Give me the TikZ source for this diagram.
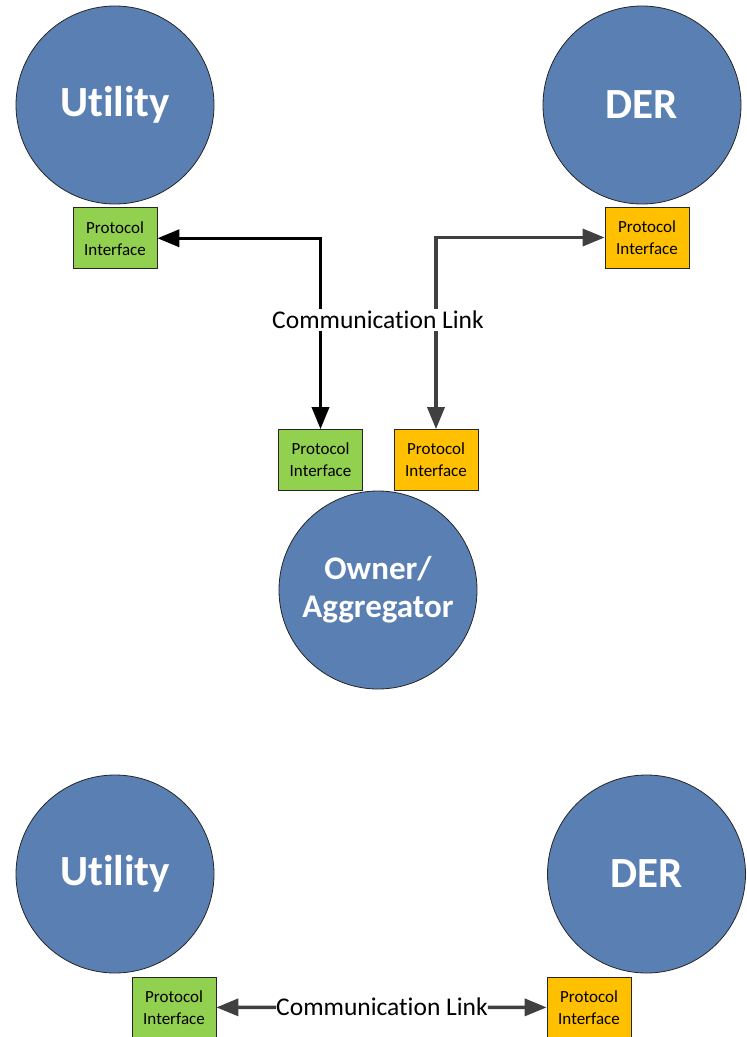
\documentclass[tikz,border=0pt]{standalone}
\usepackage{fontspec}
\setmainfont{Carlito}[Ligatures={NoCommon, NoRequired, NoContextual}]
\usepackage{tikz}
\usetikzlibrary{positioning, arrows.meta}
\definecolor{nodeblue}{HTML}{5A7FB3}
\definecolor{pigreen}{HTML}{92D050}
\definecolor{piorange}{HTML}{FFC000}
\definecolor{darkline}{HTML}{404040}
\tikzset{
  party/.style={circle, draw=black!85, fill=nodeblue, line width=0.8pt, minimum size=198pt,
                inner sep=0pt, align=center, text=white, font=\fontsize{43}{46}\selectfont\bfseries},
  greenif/.style={draw=black!85, fill=pigreen, line width=0.7pt, minimum width=84pt, minimum height=61pt,
                  inner sep=0pt, align=center, font=\fontsize{17}{22}\selectfont},
  orangeif/.style={greenif, fill=piorange},
  linklabel/.style={fill=white, inner sep=2pt, font=\fontsize{25.5}{28}\selectfont},
  blackarr/.style={{Triangle[length=22pt, width=17pt]}-{Triangle[length=22pt, width=17pt]}, draw=black, line width=3.5pt},
  greyarr/.style={{Triangle[length=22pt, width=17pt]}-{Triangle[length=22pt, width=17pt]}, draw=darkline, line width=3.5pt},
  oneway/.style={-{Triangle[length=22pt, width=17pt]}, draw=darkline, line width=3.5pt},
}
\begin{document}
\begin{tikzpicture}[x=1pt, y=1pt]
  \useasboundingbox (0,0) rectangle (747,-1037);
  % three-party setup
  \node[party] (util) at (115,-105) {Utility};
  \node[party] (der) at (642,-105) {DER};
  \node[greenif, below=3pt of util] (utilif) {Protocol\\Interface};
  \node[orangeif] (derif) at (647,-237.5) {Protocol\\Interface};
  \node[party, font=\fontsize{33}{38}\selectfont\bfseries] (owner) at (378,-590) {Owner/\\Aggregator};
  \node[greenif] (ownutil) at (320.5,-460) {Protocol\\Interface};
  \node[orangeif] (ownder) at (436,-460) {Protocol\\Interface};
  \draw[blackarr] (utilif.east) -| (ownutil.north);
  \draw[greyarr] (derif.west) -| (ownder.north);
  \node[linklabel] (link) at (378,-320) {Communication Link};
  % direct setup
  \node[party] (util2) at (115,-874) {Utility};
  \node[party] (der2) at (646.5,-874) {DER};
  \node[greenif] (utilif2) at (174,-1007.5) {Protocol\\Interface};
  \node[orangeif] (derif2) at (589,-1007.5) {Protocol\\Interface};
  \node[linklabel, inner sep=0pt] (link2) at (382,-1007) {Communication Link};
  \draw[oneway] (link2) -- (utilif2);
  \draw[oneway] (link2) -- (derif2);
\end{tikzpicture}
\end{document}
